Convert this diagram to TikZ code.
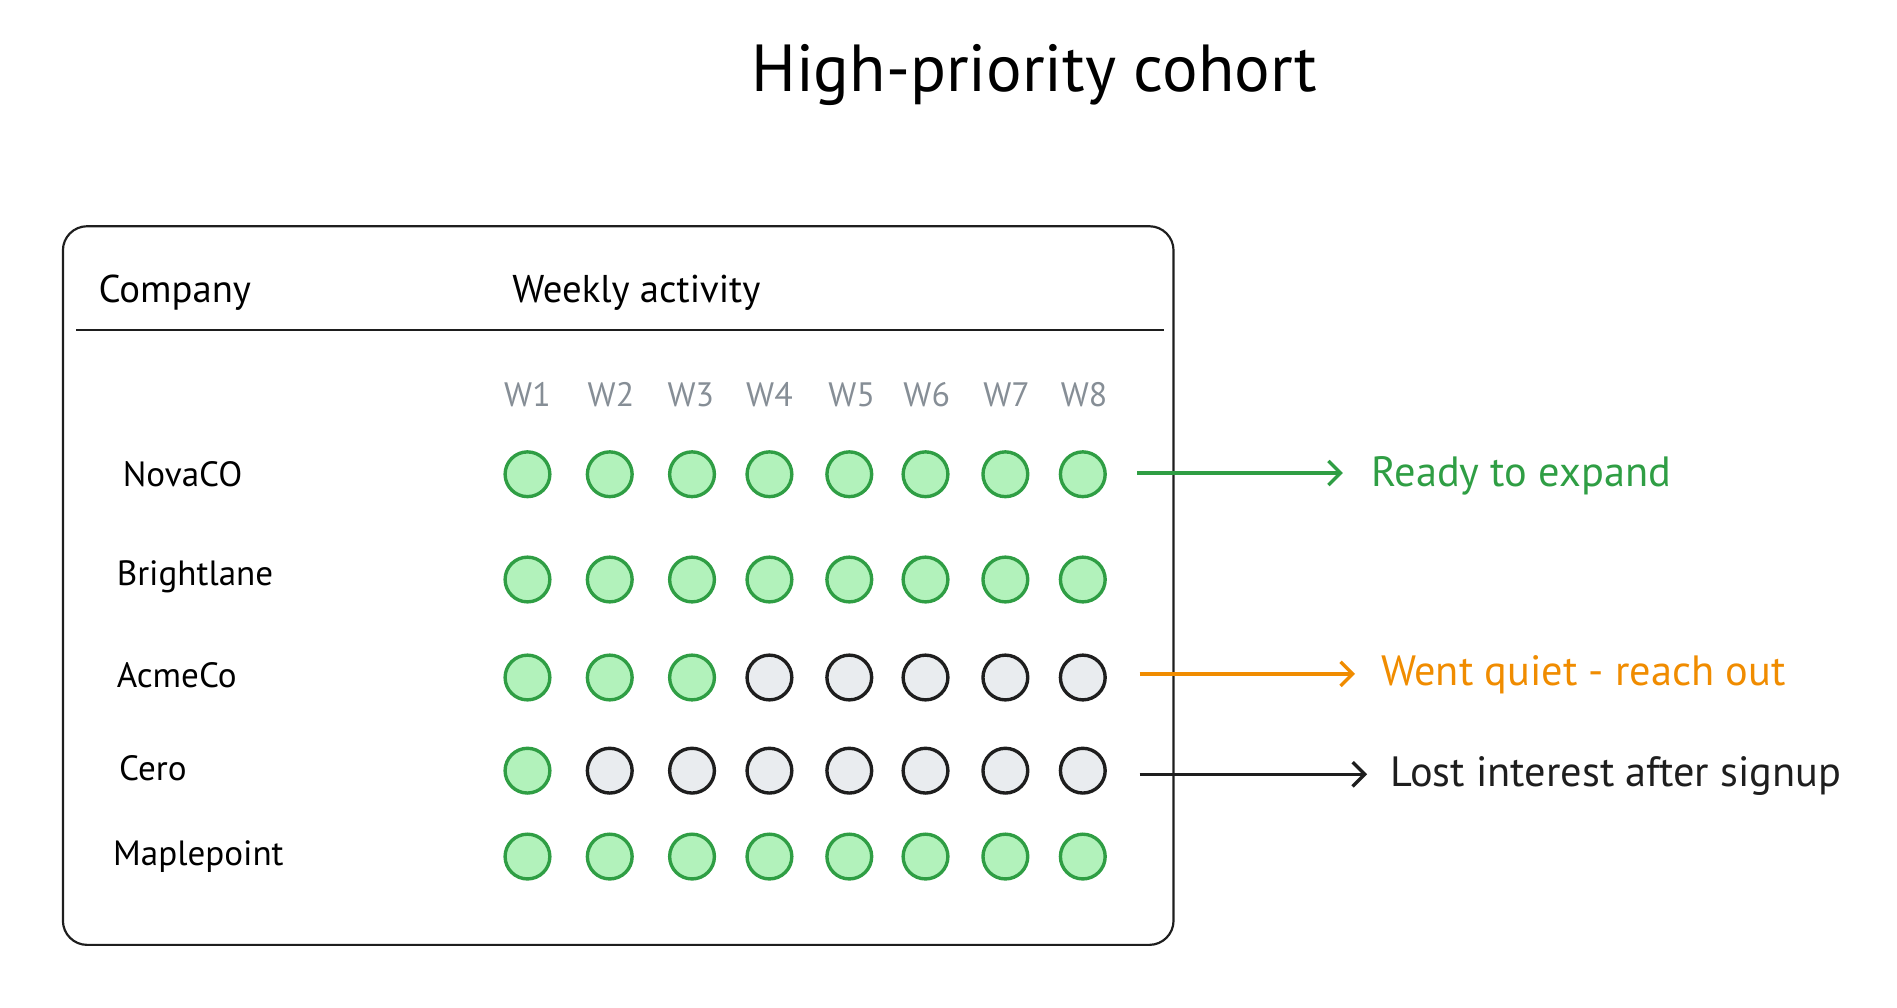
\documentclass[tikz,border=0pt]{standalone}
\usepackage{fontspec}
\setmainfont{PT Sans}
\usetikzlibrary{arrows.meta}
\definecolor{gfill}{HTML}{B2F2BB}\definecolor{gline}{HTML}{2F9E44}
\definecolor{kfill}{HTML}{E9ECEF}\definecolor{kline}{HTML}{1E1E1E}
\definecolor{org}{HTML}{F08C00}\definecolor{wgray}{HTML}{868E96}
\begin{document}
\begin{tikzpicture}[x=1pt,y=-1pt,
  on/.style={circle,draw=gline,fill=gfill,line width=2.8pt,minimum size=37pt,inner sep=0},
  off/.style={circle,draw=kline,fill=kfill,line width=2.8pt,minimum size=37pt,inner sep=0},
  lbl/.style={font=\fontsize{29}{32}\selectfont,anchor=west},
  big/.style={font=\fontsize{32}{36}\selectfont,anchor=west},
  note/.style={font=\fontsize{35}{38}\selectfont,anchor=west},
  wk/.style={font=\fontsize{28}{30}\selectfont,text=wgray},
  arr/.style={line width=2.8pt,-{Straight Barb[length=10pt,width=20pt]}}]
\useasboundingbox (0,0) rectangle (1568,833);
\node[font=\fontsize{55}{58}\selectfont] (title) at (855,62) {High-priority cohort};
\draw[line width=1.8pt,rounded corners=20pt,draw=kline] (52,187) rectangle (970,781);
\node[big] (hc) at (78,242) {Company};
\node[big] (hw) at (420,242) {Weekly activity};
\coordinate (l1) at (63,273); \coordinate (l2) at (962,273);
\draw[line width=1.8pt,kline] (l1) -- (l2);
\foreach \i/\x in {1/436,2/505,3/571,4/636,5/704,6/766,7/832,8/896}
  \node[wk] (w\i) at (\x,326) {W\i};
\node[lbl] (n1) at (98,392) {NovaCO};
\node[lbl] (n2) at (93,477) {Brightlane};
\node[lbl] (n3) at (93,558) {AcmeCo};
\node[lbl] (n4) at (95,635) {Cero};
\node[lbl] (n5) at (90,708) {Maplepoint};
\def\xs{436,504,572,636,702,765,831,895}
\foreach \r/\y/\k in {1/392/8,2/479/8,3/560/3,4/637/1,5/708/8}{
  \foreach \x [count=\c] in \xs {
    \ifnum\c>\k \node[off] (c\r-\c) at (\x,\y) {};
    \else \node[on] (c\r-\c) at (\x,\y) {};\fi
  }}
\node[note,text=gline] (t1) at (1130,393) {Ready to expand};
\node[note,text=org] (t3) at (1138,558) {Went quiet - reach out};
\node[note,text=kline] (t4) at (1146,641) {Lost interest after signup};
\coordinate (a1) at (940,391); \coordinate (b1) at (1110,391);
\coordinate (a3) at (942,557); \coordinate (b3) at (1120,557);
\coordinate (a4) at (942,640); \coordinate (b4) at (1130,640);
\draw[arr,gline] (a1) -- (b1);
\draw[arr,org] (a3) -- (b3);
\draw[arr,kline] (a4) -- (b4);
\end{tikzpicture}
\end{document}
